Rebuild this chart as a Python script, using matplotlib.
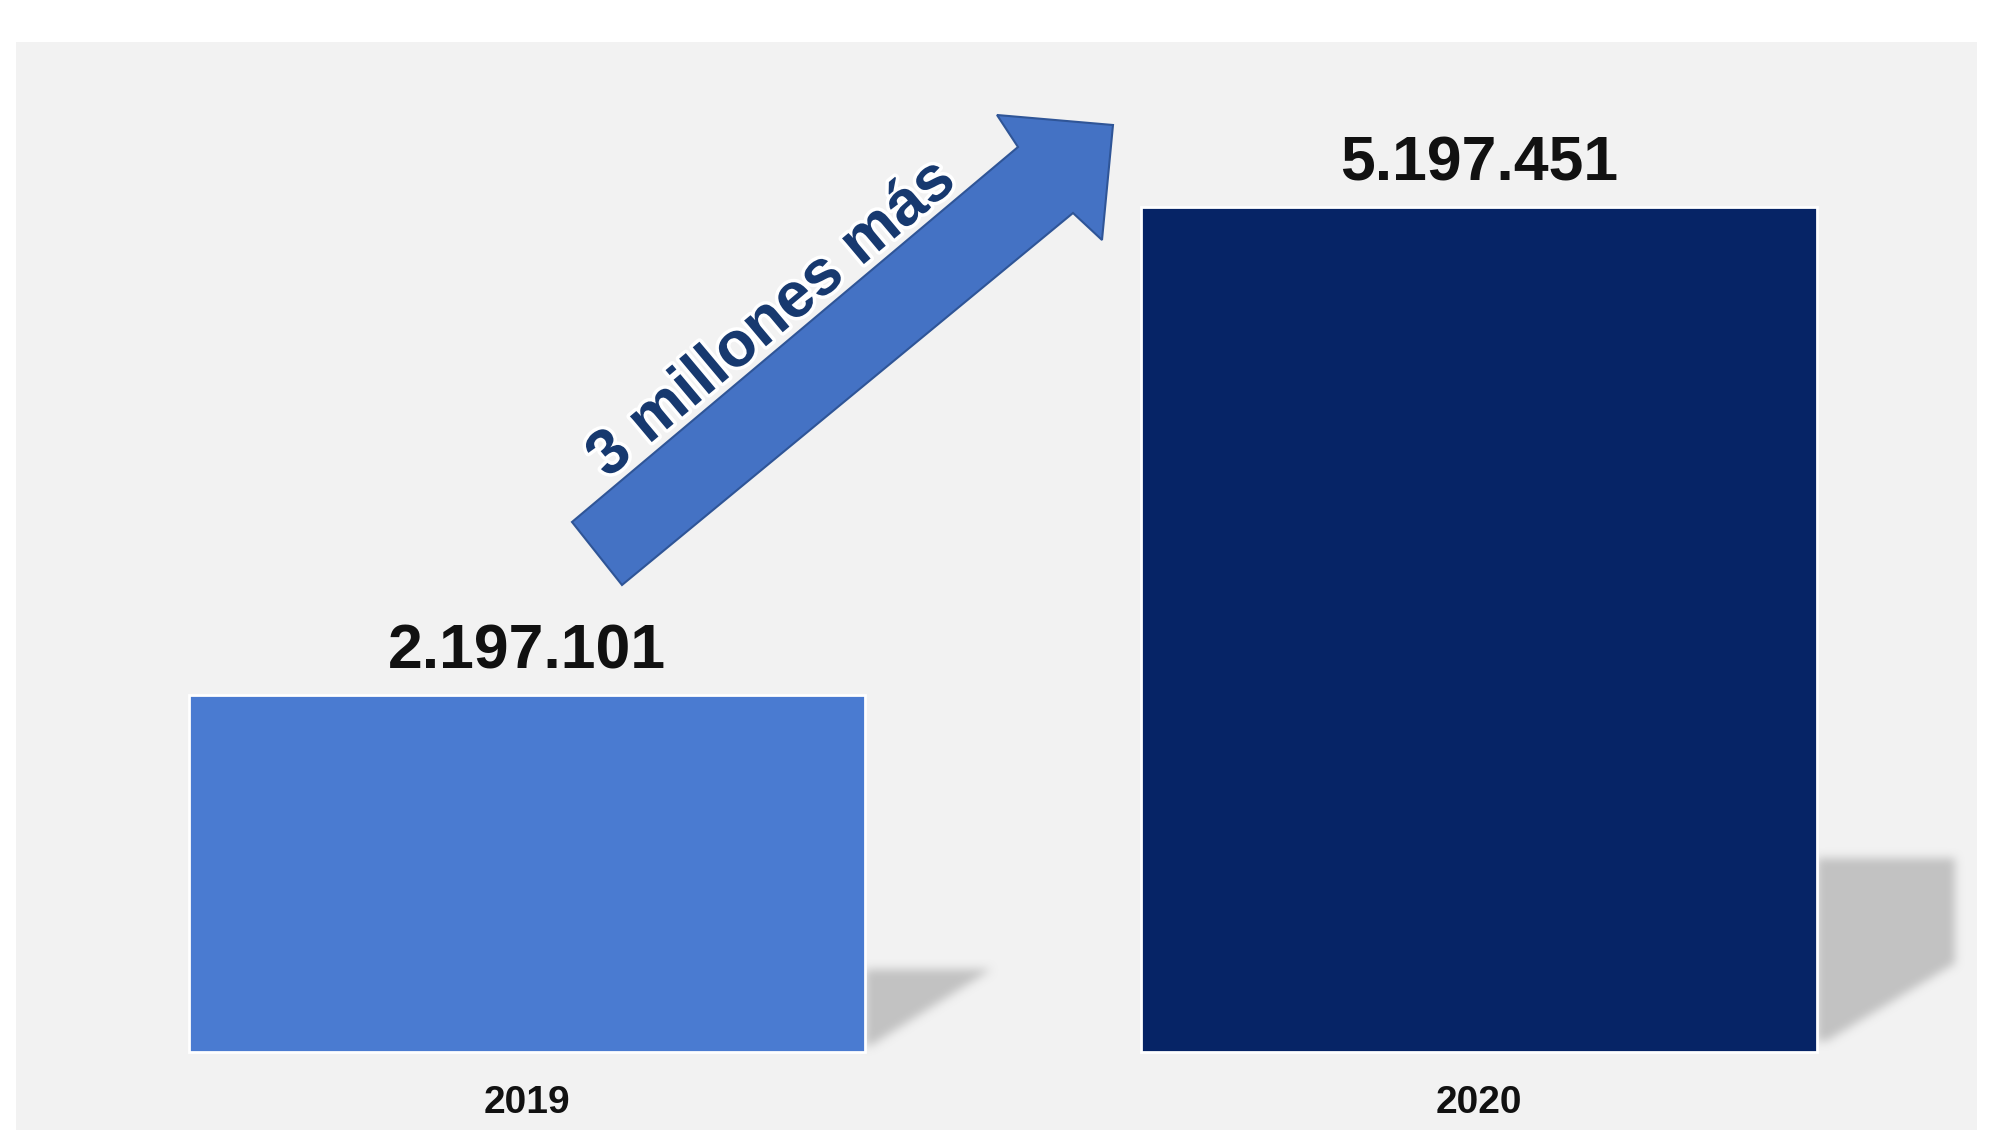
import numpy as np
import matplotlib
matplotlib.use("Agg")
import matplotlib.pyplot as plt
from matplotlib.patches import Polygon
from matplotlib.path import Path
from matplotlib.transforms import Affine2D
import matplotlib.patheffects as pe

# ---- data ----
years = ["2019", "2020"]
values = [2197101, 5197451]
value_labels = ["2.197.101", "5.197.451"]
arrow_text = "3 millones más"

# ---- styles ----
bar_colors = ["#4A7BD1", "#062466"]
FONT = ["Liberation Sans", "DejaVu Sans"]
W, H = 2000, 1140

fig = plt.figure(figsize=(W / 100, H / 100), dpi=100)
fig.patch.set_facecolor("white")

px_l, px_t, px_r, px_b = 16, 42, 1977, 1130
ax = fig.add_axes([px_l / W, 1 - px_b / H, (px_r - px_l) / W, (px_b - px_t) / H])
ax.set_facecolor("#F2F2F2")
for s in ax.spines.values():
    s.set_visible(False)
ax.set_xticks([])
ax.set_yticks([])

x = np.arange(len(years))
bar_w = 0.71
XLIM = (-0.537, 1.523)
YLIM = (-480000, 6212000)
ax.set_xlim(*XLIM)
ax.set_ylim(*YLIM)

# ---- blurred drop shadows (decoration) ----
def box_blur(a, r):
    k = 2 * r + 1
    p = np.pad(a, ((r + 1, r), (0, 0)))
    c = np.cumsum(p, axis=0)
    a = (c[k:] - c[:-k]) / k
    p = np.pad(a, ((0, 0), (r + 1, r)))
    c = np.cumsum(p, axis=1)
    return (c[:, k:] - c[:, :-k]) / k

shadow_shapes = [
    # (dx from bar right edge in x-units, fraction of bar value)
    [(0.0, 0.23), (0.132, 0.23), (0.006, 0.018), (0.0, 0.018)],
    [(0.0, 0.23), (0.145, 0.23), (0.145, 0.105), (0.01, 0.013), (0.0, 0.013)],
]
for xi, v, shape in zip(x, values, shadow_shapes):
    right = xi + bar_w / 2
    poly = np.array([(right + dx, fy * v) for dx, fy in shape])
    disp = ax.transData.transform(poly)
    pad = 25
    x0, y0 = np.floor(disp.min(axis=0)) - pad
    x1, y1 = np.ceil(disp.max(axis=0)) + pad
    gx = np.arange(x0, x1) + 0.5
    gy = np.arange(y0, y1) + 0.5
    GX, GY = np.meshgrid(gx, gy)
    mask = Path(disp).contains_points(np.c_[GX.ravel(), GY.ravel()]).reshape(GX.shape).astype(float)
    for _ in range(3):
        mask = box_blur(mask, 4)
    rgba = np.zeros(mask.shape + (4,))
    rgba[..., :3] = 0.70
    rgba[..., 3] = mask * 0.75
    inv = ax.transData.inverted()
    (ex0, ey0), (ex1, ey1) = inv.transform([(x0, y0), (x1, y1)])
    ax.imshow(rgba, extent=(ex0, ex1, ey0, ey1), origin="lower",
              aspect="auto", zorder=1, interpolation="bilinear")

ax.set_xlim(*XLIM)
ax.set_ylim(*YLIM)

# ---- bars ----
ax.bar(x, values, width=bar_w, color=bar_colors, edgecolor="white",
       linewidth=2, zorder=3)

for xi, v, lbl in zip(x, values, value_labels):
    ax.annotate(lbl, (xi, v), xytext=(0, 19), textcoords="offset points",
                ha="center", va="baseline", fontsize=45, fontweight="bold",
                family=FONT, color="#111111", zorder=4)

for xi, yr in zip(x, years):
    ax.text(xi, -375000, yr, ha="center", va="baseline", fontsize=28,
            fontweight="bold", family=FONT, color="#111111")

# ---- block arrow (decoration, figure pixel coords from top-left) ----
tr_px = Affine2D().scale(1 / W, -1 / H).translate(0, 1) + fig.transFigure
arrow_pts = [(572, 522), (1018, 147), (997, 115), (1113, 125),
             (1102, 240), (1073, 213), (622, 585)]
arrow = Polygon(arrow_pts, closed=True, facecolor="#4472C4",
                edgecolor="#2F5597", linewidth=1.5, transform=tr_px, zorder=5)
fig.add_artist(arrow)

fig.text(783, 332, arrow_text, transform=tr_px, rotation=40,
         rotation_mode="anchor", ha="center", va="baseline", fontsize=46,
         fontweight="bold", family=FONT, color="#17396F", zorder=6,
         path_effects=[pe.withStroke(linewidth=5, foreground="white")])

fig.savefig("out.png", dpi=100, facecolor="white")
